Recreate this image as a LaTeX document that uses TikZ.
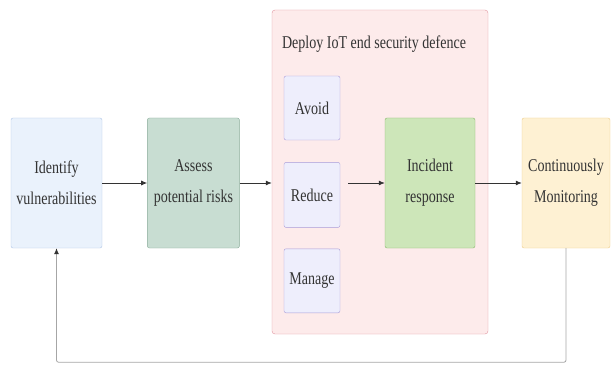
\documentclass[tikz,border=0pt]{standalone}
\usepackage{fontspec}
\setmainfont[FakeStretch=0.78]{Liberation Serif}
\usetikzlibrary{positioning}
\usetikzlibrary{arrows.meta}
\usetikzlibrary{calc}
\definecolor{idfill}{HTML}{EAF2FC}
\definecolor{iddraw}{HTML}{B0C4E6}
\definecolor{asfill}{HTML}{C8DDD2}
\definecolor{asdraw}{HTML}{88AA98}
\definecolor{grfill}{HTML}{FDEBEB}
\definecolor{grdraw}{HTML}{E0949E}
\definecolor{acfill}{HTML}{EEEEFC}
\definecolor{acdraw}{HTML}{A99CD8}
\definecolor{infill}{HTML}{CDE6B9}
\definecolor{indraw}{HTML}{88B76C}
\definecolor{cofill}{HTML}{FEF1D3}
\definecolor{codraw}{HTML}{EECB88}
\tikzstyle{every picture}=[>={Latex[length=6pt,width=5pt]}, x=1pt, y=1pt]
\tikzstyle{every node}=[font=\fontsize{18}{31}\selectfont, text=black!80]
\tikzstyle{stage}=[draw, rectangle, rounded corners=2pt, align=center,
  minimum width=91pt, minimum height=130pt, inner sep=2pt]
\tikzstyle{action}=[stage, fill=acfill, draw=acdraw, minimum width=56pt, minimum height=64pt]
\tikzstyle{flow}=[->, draw=black!80, thick]

\begin{document}
\begin{tikzpicture}
\useasboundingbox (0,0) rectangle (611,365);

\node[stage, fill=idfill, draw=iddraw] (Identify) at (56.5,182) {Identify\\vulnerabilities};
\node[stage, fill=asfill, draw=asdraw, minimum width=92pt, right=45pt of Identify] (Assess) {Assess\\potential risks};

\node[draw=grdraw, fill=grfill, rounded corners=3pt, minimum width=216pt,
  minimum height=324pt] (Deploy) at (380,193) {};
\node[anchor=north west, inner sep=0pt] (DeployTitle) at ([xshift=10pt, yshift=-26pt] Deploy.north west)
  {Deploy IoT end security defence};

\node[action] (Avoid) at (312,257) {Avoid};
\node[action, below=22pt of Avoid, minimum height=65pt] (Reduce) {Reduce};
\node[action, below=21pt of Reduce] (Manage) {Manage};

\node[stage, fill=infill, draw=indraw, minimum width=90pt] (Incident) at (430,182) {Incident\\response};
\node[stage, fill=cofill, draw=codraw, minimum width=88pt] (Monitor) at (566,182) {Continuously\\Monitoring};

\coordinate (ReduceOut) at ($(Reduce.east |- Incident.west) + (8pt,0)$);
\coordinate (Back) at ($(Monitor.south) + (0,-114pt)$);

\draw[flow] (Identify) -- (Assess);
\draw[flow] (Assess.east) -- (Assess.east -| Deploy.west);
\draw[flow] (ReduceOut) -- (Incident.west);
\draw[flow] (Incident) -- (Monitor);
\draw[-{Latex[length=6pt,width=5pt,black!80]}, draw=black!35, thick, rounded corners=2pt]
  (Monitor.south) -- (Back) -- (Back -| Identify.south) -- (Identify.south);

\end{tikzpicture}
\end{document}
